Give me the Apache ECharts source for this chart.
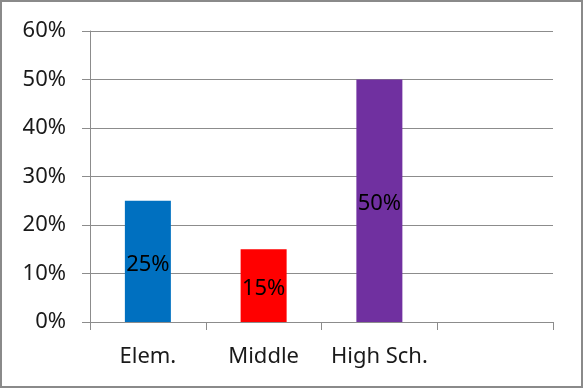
<!DOCTYPE html>
<html>
<head>
<meta charset="utf-8">
<script src="https://cdn.jsdelivr.net/npm/echarts@6/dist/echarts.min.js"></script>
<style>
  html, body { margin: 0; padding: 0; background: #fff; }
  #chart { width: 583px; height: 388px; }
</style>
</head>
<body>
<div id="chart"></div>
<script>
// School levels and their shares
const categories = ['Elem.', 'Middle', 'High Sch.', ''];
const shares = [0.25, 0.15, 0.50, null];
const barColors = ['#0070C0', '#FF0000', '#7030A0', '#FFFFFF'];
const yTicks = { min: 0, max: 0.6, step: 0.1 };

const pct = v => Math.round(v * 100) + '%';
const font = '"Noto Sans", "DejaVu Sans", sans-serif';

const chart = echarts.init(document.getElementById('chart'), null, { renderer: 'canvas' });
chart.setOption({
  animation: false,
  backgroundColor: '#fff',
  graphic: [{
    type: 'rect',
    shape: { x: 1, y: 1, width: 581, height: 386 },
    style: { fill: 'none', stroke: '#8a8a8a', lineWidth: 2 },
    silent: true
  }],
  grid: { left: 90, right: 30, top: 31, bottom: 66 },
  xAxis: {
    type: 'category',
    data: categories,
    axisLine: { lineStyle: { color: '#8c8c8c', width: 1 } },
    axisTick: { show: true, interval: 0, length: 8, lineStyle: { color: '#8c8c8c' } },
    axisLabel: {
      color: '#1a1a1a', fontSize: 22, fontFamily: font, margin: 24,
      interval: 0, hideOverlap: false
    }
  },
  yAxis: {
    type: 'value',
    min: yTicks.min,
    max: yTicks.max,
    interval: yTicks.step,
    axisLine: { show: true, lineStyle: { color: '#8c8c8c', width: 1 } },
    axisTick: { show: true, length: 8, lineStyle: { color: '#8c8c8c' } },
    splitLine: { lineStyle: { color: '#8c8c8c', width: 1 } },
    axisLabel: { color: '#1a1a1a', fontSize: 22, fontFamily: font, margin: 24, formatter: pct }
  },
  series: [{
    type: 'bar',
    barWidth: 46,
    data: shares.map((v, i) => ({ value: v, itemStyle: { color: barColors[i] } })),
    label: {
      show: true,
      position: 'inside',
      offset: [0, 3],
      color: '#000',
      fontSize: 22,
      fontFamily: font,
      formatter: p => (p.value == null ? '' : pct(p.value))
    }
  }]
});
</script>
</body>
</html>
